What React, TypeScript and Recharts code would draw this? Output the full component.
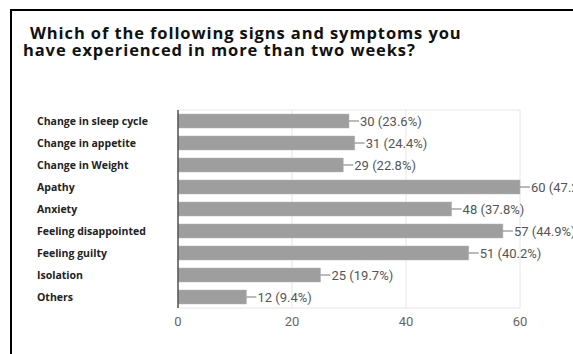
import React from 'react';
import { BarChart, Bar, XAxis, YAxis, CartesianGrid, LabelList } from 'recharts';

const symptoms = [
  'Change in sleep cycle',
  'Change in appetite',
  'Change in Weight',
  'Apathy',
  'Anxiety',
  'Feeling disappointed',
  'Feeling guilty',
  'Isolation',
  'Others',
];
const counts = [30, 31, 29, 60, 48, 57, 51, 25, 12];
const percents = ['23.6%', '24.4%', '22.8%', '47.2%', '37.8%', '44.9%', '40.2%', '19.7%', '9.4%'];
const xTicks = [0, 20, 40, 60];

const WIDTH = 573;
const HEIGHT = 354;
const MARGIN = { top: 110, right: 53, bottom: 16, left: 10 };
const X_AXIS_H = 30;

const data = symptoms.map((name, i) => ({ name, count: counts[i], pct: percents[i] }));

// left-aligned bold category names
const CategoryTick = (props: any) => {
  const { y, payload } = props;
  return (
    <text
      x={37}
      y={y}
      dy={3.5}
      textAnchor="start"
      fontFamily="'Open Sans', sans-serif"
      fontWeight={700}
      fontSize={10.5}
      fill="#222"
    >
      {payload.value}
    </text>
  );
};

// short leader line from the bar end, then "n (p%)"
const ValueLabel = (props: any) => {
  const { x, y, width, height, index } = props;
  const endX = x + width;
  const cy = y + height / 2;
  return (
    <g>
      <line x1={endX} y1={cy} x2={endX + 10} y2={cy} stroke="#777" strokeWidth={1} />
      <text
        x={endX + 11}
        y={cy}
        dy={4.5}
        fontFamily="Roboto, sans-serif"
        fontSize={13}
        fill="#555"
      >
        {`${counts[index]} (${percents[index]})`}
      </text>
    </g>
  );
};

const titleStyle: React.CSSProperties = {
  position: 'absolute',
  fontFamily: "'Open Sans', sans-serif",
  fontWeight: 700,
  fontSize: 16.5,
  letterSpacing: 0.9,
  lineHeight: '17px',
  color: '#111',
  whiteSpace: 'nowrap',
};

export default function App() {
  const plotTop = MARGIN.top;
  const plotBottom = HEIGHT - MARGIN.bottom - X_AXIS_H;
  return (
    <div
      style={{
        position: 'absolute',
        left: 0,
        top: 0,
        width: WIDTH,
        height: HEIGHT,
        background: '#fff',
        overflow: 'hidden',
      }}
    >
      {/* frame on the left and top */}
      <div style={{ position: 'absolute', left: 10, top: 9, width: 2, height: HEIGHT - 9, background: '#000' }} />
      <div style={{ position: 'absolute', left: 10, top: 9, width: WIDTH - 10, height: 2, background: '#000' }} />
      <div style={{ ...titleStyle, left: 30, top: 24 }}>Which of the following signs and symptoms you</div>
      <div style={{ ...titleStyle, left: 23, top: 41 }}>have experienced in more than two weeks?</div>
      <div style={{ position: 'absolute', left: 0, top: 0 }}>
        <BarChart width={WIDTH} height={HEIGHT} data={data} layout="vertical" margin={MARGIN}>
          <CartesianGrid
            stroke="#e6e6e6"
            horizontalPoints={[plotTop, plotBottom]}
          />
          <XAxis
            type="number"
            domain={[0, 60]}
            ticks={xTicks}
            height={X_AXIS_H}
            axisLine={false}
            tickLine={false}
            tick={{ fontFamily: 'Roboto, sans-serif', fontSize: 13, fill: '#666' }}
            tickMargin={3}
          />
          <YAxis
            type="category"
            dataKey="name"
            width={168}
            axisLine={{ stroke: '#555', strokeWidth: 1.5 }}
            tickLine={false}
            tick={<CategoryTick />}
            interval={0}
          />
          <Bar dataKey="count" fill="#9e9e9e" stroke="#b5b5b5" strokeWidth={0.5} barSize={14} isAnimationActive={false}>
            <LabelList dataKey="count" content={<ValueLabel />} />
          </Bar>
        </BarChart>
      </div>
    </div>
  );
}
